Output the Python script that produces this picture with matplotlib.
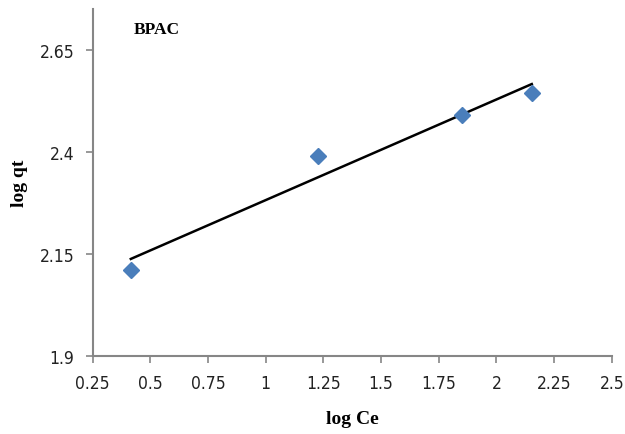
import numpy as np
import matplotlib.pyplot as plt

log_ce = [0.416, 1.226, 1.852, 2.153]
log_qt = [2.111, 2.389, 2.490, 2.544]
x_ticks = [0.25, 0.5, 0.75, 1, 1.25, 1.5, 1.75, 2, 2.25, 2.5]
x_tick_labels = ['0.25', '0.5', '0.75', '1', '1.25', '1.5', '1.75', '2', '2.25', '2.5']
y_ticks = [1.9, 2.15, 2.4, 2.65]
y_tick_labels = ['1.9', '2.15', '2.4', '2.65']

tick_font = ['DejaVu Sans']
label_font = ['Liberation Serif', 'DejaVu Serif']
axis_grey = '#868686'


def draw_freundlich_plot() -> None:
    fig = plt.figure(figsize=(6.25, 4.35), dpi=100)
    ax = fig.add_axes([0.148, 0.179, 0.831, 0.798])

    # linear trendline through the points
    slope, intercept = np.polyfit(log_ce, log_qt, 1)
    x_fit = np.array([min(log_ce), max(log_ce)])
    ax.plot(x_fit, slope * x_fit + intercept, color='black', lw=1.8, zorder=2)

    ax.plot(log_ce, log_qt, linestyle='none', marker='D', markersize=8.5,
            color='#4a7ebb', zorder=3)

    ax.set_xlim(0.25, 2.5)
    ax.set_ylim(1.9, 2.75)
    ax.set_xticks(x_ticks, x_tick_labels)
    ax.set_yticks(y_ticks, y_tick_labels)
    for lbl in ax.get_xticklabels() + ax.get_yticklabels():
        lbl.set_fontsize(12.5)
        lbl.set_family(tick_font)
        lbl.set_stretch('condensed')
        lbl.set_color('#222222')
    ax.tick_params(direction='out', length=5, width=1.2, color=axis_grey, pad=8)

    for side in ['top', 'right']:
        ax.spines[side].set_visible(False)
    for side in ['left', 'bottom']:
        ax.spines[side].set_color(axis_grey)
        ax.spines[side].set_linewidth(1.5)

    ax.set_xlabel('log Ce', fontsize=14, fontweight='bold', family=label_font)
    ax.set_ylabel('log qt', fontsize=14, fontweight='bold', family=label_font)
    ax.xaxis.set_label_coords(0.5, -0.155)
    ax.yaxis.set_label_coords(-0.125, 0.5)
    ax.text(0.08, 0.965, 'BPAC', transform=ax.transAxes, fontsize=12.5, fontweight='bold',
            family=label_font, va='top')

    fig.savefig('out.png', dpi=100)


if __name__ == '__main__':
    draw_freundlich_plot()
